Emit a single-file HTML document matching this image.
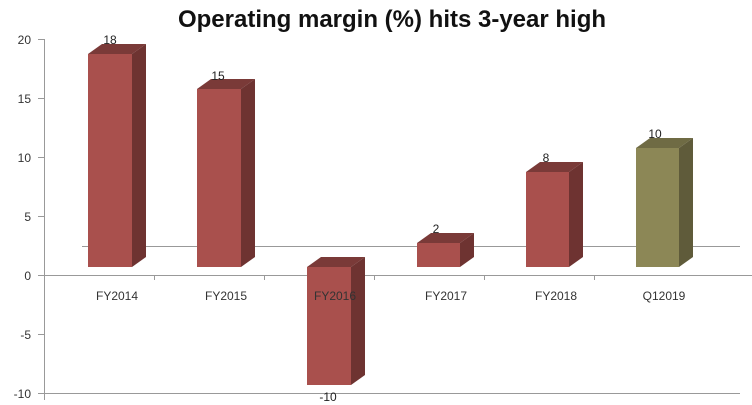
<!DOCTYPE html><html><head><style>body{margin:0;background:#fff}svg{display:block;font-family:"Liberation Sans",sans-serif}</style></head><body>
<svg width="752" height="405" viewBox="0 0 752 405">
<text x="392" y="27" text-anchor="middle" font-size="24" font-weight="bold" fill="#111">Operating margin (%) hits 3-year high</text>
<g font-size="12" fill="#333" text-anchor="end">
<text x="31" y="44">20</text><text x="31" y="103">15</text><text x="31" y="162">10</text><text x="31" y="221">5</text><text x="31" y="280">0</text><text x="31" y="339">-5</text><text x="31" y="398">-10</text></g>
<g stroke="#999" stroke-width="1">
<line x1="44.5" y1="39" x2="44.5" y2="400"/>
<line x1="38" y1="275.5" x2="752" y2="275.5"/>
<line x1="82" y1="246.5" x2="740" y2="246.5"/>
<line x1="44" y1="393.5" x2="740" y2="393.5"/>
<line x1="38" y1="39.5" x2="44" y2="39.5"/><line x1="38" y1="98.5" x2="44" y2="98.5"/><line x1="38" y1="157.5" x2="44" y2="157.5"/><line x1="38" y1="216.5" x2="44" y2="216.5"/><line x1="38" y1="334.5" x2="44" y2="334.5"/><line x1="38" y1="393.5" x2="44" y2="393.5"/>
<line x1="154.5" y1="275" x2="154.5" y2="280"/><line x1="264.5" y1="275" x2="264.5" y2="280"/><line x1="374.5" y1="275" x2="374.5" y2="280"/><line x1="484.5" y1="275" x2="484.5" y2="280"/><line x1="594.5" y1="275" x2="594.5" y2="280"/>
</g>
<g>
<polygon points="88,54 102,44 146,44 132,54" fill="#7a3a38"/><polygon points="132,54 146,44 146,257 132,267" fill="#6e3331"/><rect x="88" y="54" width="44" height="213" fill="#a9504d"/>
<polygon points="197,89 211,79 255,79 241,89" fill="#7a3a38"/><polygon points="241,89 255,79 255,257 241,267" fill="#6e3331"/><rect x="197" y="89" width="44" height="178" fill="#a9504d"/>
<polygon points="417,243 431,233 474,233 460,243" fill="#7a3a38"/><polygon points="460,243 474,233 474,257 460,267" fill="#6e3331"/><rect x="417" y="243" width="43" height="24" fill="#a9504d"/>
<polygon points="526,172 540,162 583,162 569,172" fill="#7a3a38"/><polygon points="569,172 583,162 583,257 569,267" fill="#6e3331"/><rect x="526" y="172" width="43" height="95" fill="#a9504d"/>
<polygon points="636,148 650,138 693,138 679,148" fill="#6f6b44"/><polygon points="679,148 693,138 693,257 679,267" fill="#5f5b3a"/><rect x="636" y="148" width="43" height="119" fill="#8c8756"/>
</g>
<g font-size="12" fill="#333" text-anchor="middle">
<text x="117" y="300">FY2014</text><text x="226" y="300">FY2015</text><text x="446" y="300">FY2017</text><text x="556" y="300">FY2018</text><text x="664" y="300">Q12019</text>
</g>
<polygon points="307,267 321,257 365,257 351,267" fill="#7a3a38"/><polygon points="351,267 365,257 365,375 351,385" fill="#6e3331"/><rect x="307" y="267" width="44" height="118" fill="#a9504d"/>
<text x="335" y="300" font-size="12" fill="#333" text-anchor="middle">FY2016</text>
<g font-size="12" fill="#222" text-anchor="middle">
<text x="110" y="44">18</text><text x="218" y="80">15</text><text x="328" y="401">-10</text><text x="436" y="233">2</text><text x="546" y="162">8</text><text x="655" y="138">10</text></g>
</svg></body></html>
